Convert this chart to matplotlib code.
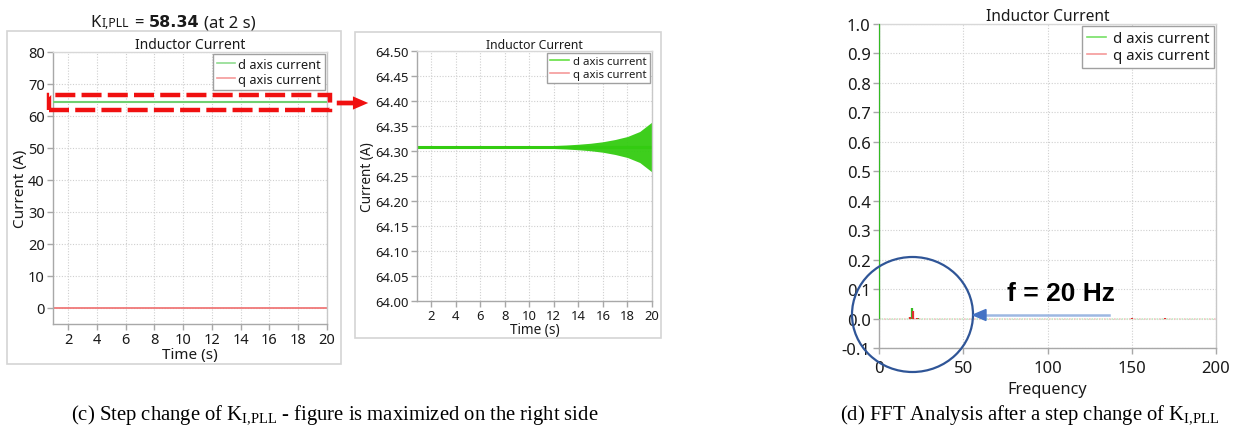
import matplotlib
matplotlib.use("Agg")
import matplotlib.pyplot as plt
from matplotlib.patches import Rectangle, Ellipse, FancyArrowPatch, Polygon
from matplotlib.lines import Line2D

# ---------------- data ----------------
time_ticks = [2, 4, 6, 8, 10, 12, 14, 16, 18, 20]
t_span = [0.95, 20]
id_level = 64.308          # d-axis current (A)
iq_level = 0.0             # q-axis current (A)
# oscillation envelope of d-axis current (zoomed view)
env_t = [0.86, 8, 10, 12, 13, 14, 15, 16, 17, 18, 19, 20]
env_half = [0.0015, 0.0017, 0.0022, 0.003, 0.004, 0.0055, 0.0075, 0.0105, 0.015, 0.021, 0.031, 0.05]
left_yticks = [0, 10, 20, 30, 40, 50, 60, 70, 80]
zoom_yticks = [64.00, 64.05, 64.10, 64.15, 64.20, 64.25, 64.30, 64.35, 64.40, 64.45, 64.50]
# FFT spectra
fft_d_freq = [0, 18.2, 19.8, 23.0]
fft_d_amp = [1.0, 0.005, 0.037, 0.002]
fft_q_freq = [18.6, 20.4, 22.6, 150, 170]
fft_q_amp = [0.004, 0.027, 0.003, 0.003, 0.001]
fft_xticks = [0, 50, 100, 150, 200]
fft_yticks = [-0.1, 0.0, 0.1, 0.2, 0.3, 0.4, 0.5, 0.6, 0.7, 0.8, 0.9, 1.0]

W, H = 1235, 431
plt.rcParams['font.family'] = ['Noto Sans', 'DejaVu Sans']
plt.rcParams['mathtext.fontset'] = 'custom'
plt.rcParams['mathtext.rm'] = 'Liberation Serif'
plt.rcParams['mathtext.it'] = 'Liberation Serif:italic'
plt.rcParams['mathtext.bf'] = 'Liberation Serif:bold'

fig = plt.figure(figsize=(W / 100, H / 100), dpi=100)


def P(x, y):
    return (x / W, 1 - y / H)


def axrect(l, t, r, b):
    return [l / W, 1 - b / H, (r - l) / W, (b - t) / H]


SPINE = '#a8a8a8'
GRID = '#cfcfcf'
TXT = '#1a1a1a'
G_LIGHT = '#8fdc8f'
G_BRIGHT = '#33cc11'
R_LIGHT = '#f59a9a'


def style_axes(ax, fs):
    for s in ax.spines.values():
        s.set_color(SPINE)
        s.set_linewidth(1.0)
    ax.spines['top'].set_color('#d8d8d8')
    ax.spines['right'].set_color('#c8c8c8')
    ax.tick_params(colors=SPINE, labelcolor=TXT, labelsize=fs, length=4, width=1, pad=2)
    ax.grid(True, color=GRID, linestyle=(0, (1, 1.5)), linewidth=0.8)
    ax.set_axisbelow(True)


def legend(ax, fs, hl, htp, gcol, rcol):
    h = [Line2D([], [], color=gcol, lw=1.2), Line2D([], [], color=rcol, lw=1.2)]
    lg = ax.legend(h, ['d axis current', 'q axis current'], loc='upper right', fontsize=fs,
                   frameon=True, fancybox=False, framealpha=1, edgecolor='#a0a0a0',
                   borderaxespad=0.15, handlelength=hl, handletextpad=htp,
                   labelspacing=0.15, borderpad=0.3)
    lg.get_frame().set_linewidth(1.0)
    for t in lg.get_texts():
        t.set_color(TXT)


# outer boxes for panels (c)
fig.add_artist(Rectangle(P(7, 365), 334 / W, 333 / H, transform=fig.transFigure,
                         fill=False, edgecolor='#d4d4d4', lw=1.2))
fig.add_artist(Rectangle(P(355, 339), 306 / W, 306 / H, transform=fig.transFigure,
                         fill=False, edgecolor='#d4d4d4', lw=1.2))

# ---------- panel 1 ----------
ax1 = fig.add_axes(axrect(53, 53, 327, 325))
style_axes(ax1, 10.5)
ax1.plot(t_span, [id_level, id_level], color='#70d070', lw=1.5, zorder=5)
ax1.plot(t_span, [iq_level, iq_level], color='#f07878', lw=1.3)
ax1.set_xlim(t_span)
ax1.set_ylim(-5, 80)
ax1.set_xticks(time_ticks)
ax1.set_yticks(left_yticks)
ax1.set_title('Inductor Current', fontsize=10, color=TXT, pad=2)
ax1.set_xlabel('Time (s)', fontsize=11, color=TXT, labelpad=0)
ax1.set_ylabel('Current (A)', fontsize=11, color=TXT, labelpad=0)
legend(ax1, 9.2, 1.4, 0.3, G_LIGHT, R_LIGHT)

# ---------- panel 2 ----------
ax2 = fig.add_axes(axrect(417, 52, 652, 302))
style_axes(ax2, 9.4)
upper = [id_level + h for h in env_half]
lower = [id_level - h for h in env_half]
ax2.fill_between(env_t, lower, upper, color=G_BRIGHT, lw=0, alpha=0.95)
ax2.plot(env_t, [id_level] * len(env_t), color=G_BRIGHT, lw=2.2)
ax2.set_xlim(0.86, 20)
ax2.set_ylim(64.0, 64.5)
ax2.set_xticks(time_ticks)
ax2.set_yticks(zoom_yticks)
ax2.set_yticklabels([f'{v:.2f}' for v in zoom_yticks])
ax2.set_title('Inductor Current', fontsize=8.8, color=TXT, pad=2)
ax2.set_xlabel('Time (s)', fontsize=9.8, color=TXT, labelpad=0)
ax2.set_ylabel('Current (A)', fontsize=9.8, color=TXT, labelpad=0)
legend(ax2, 8.2, 1.6, 0.4, '#66e044', R_LIGHT)

# ---------- panel 3 ----------
ax3 = fig.add_axes(axrect(879, 25, 1216, 349))
style_axes(ax3, 12)
ax3.tick_params(axis='x', pad=5)
ax3.axhline(0, color='#f2c4c4', lw=1.2, ls=(0, (1, 2)), zorder=2)
ax3.axhline(0, color='#c4ecc4', lw=1.2, ls=(1.5, (1, 2)), zorder=2)
ax3.vlines(fft_d_freq, 0, fft_d_amp, color='#33bb22', lw=1.6, zorder=3)
ax3.vlines(fft_q_freq, 0, fft_q_amp, color='#e03030', lw=1.6, zorder=3)
ax3.set_xlim(0, 200)
ax3.set_ylim(-0.1, 1.0)
ax3.set_xticks(fft_xticks)
ax3.set_yticks(fft_yticks)
ax3.set_yticklabels([f'{v:.1f}' for v in fft_yticks])
ax3.set_title('Inductor Current', fontsize=11.2, color=TXT, pad=3)
ax3.set_xlabel('Frequency', fontsize=11.7, color=TXT, labelpad=3)
legend(ax3, 10.8, 1.3, 0.45, '#77e066', R_LIGHT)

# ---------- annotations ----------
# red dashed rectangle + arrow
fig.add_artist(Rectangle(P(49, 111), 281 / W, 15 / H, transform=fig.transFigure, fill=False,
                         edgecolor='#f01010', lw=3.2, linestyle=(0, (4.5, 1.4)), zorder=10))
fig.add_artist(FancyArrowPatch(P(334, 104), P(371, 104), transform=fig.transFigure,
                               arrowstyle='simple,head_length=1.1,head_width=0.95,tail_width=0.34',
                               mutation_scale=10, color='#f01010', lw=0, zorder=10))

# blue ellipse + arrow
fig.add_artist(Ellipse(P(912.5, 315.5), 121 / W, 115 / H, transform=fig.transFigure,
                       fill=False, edgecolor='#2f5597', lw=1.6, zorder=10))
fig.add_artist(Line2D([983 / W, 1109 / W], [1 - 316 / H, 1 - 316 / H], transform=fig.transFigure,
                      color='#9db8e2', lw=1.8, zorder=10))
fig.add_artist(Polygon([P(973, 316), P(986, 310.5), P(986, 321.5)], closed=True,
                       transform=fig.transFigure, color='#4472c4', zorder=10))
fig.text(*P(1061, 294), 'f = 20 Hz', family='Liberation Sans', weight='bold', fontsize=19,
         ha='center', va='center', color='black')

# top label "KI,PLL = 58.34 (at 2 s)"
renderer = fig.canvas.get_renderer()
pieces = [('K', dict(fontsize=12), 0), ('I,PLL', dict(fontsize=8.8), 1.0),
          ('=', dict(fontsize=12), 5), ('58.34', dict(fontsize=11.5, weight='bold', family='DejaVu Sans'), 5),
          ('(at 2 s)', dict(fontsize=12), 5)]
objs = []
total = 0
for s, kw, gap in pieces:
    t = fig.text(0, 0, s, ha='left', va='baseline', color=TXT, **kw)
    w = t.get_window_extent(renderer).width
    objs.append((t, gap, w))
    total += gap + w
x = 173 - total / 2
for t, gap, w in objs:
    x += gap
    t.set_position(P(x, 27))
    x += w

# captions
fig.text(*P(335, 415), r'(c) Step change of K$_{\mathrm{I{,}PLL}}$ - figure is maximized on the right side',
         family='Liberation Serif', fontsize=14.9, ha='center', va='center', color='black')
fig.text(*P(1030, 415), r'(d) FFT Analysis after a step change of K$_{\mathrm{I{,}PLL}}$',
         family='Liberation Serif', fontsize=14.9, ha='center', va='center', color='black')

fig.savefig('out.png', dpi=100)
